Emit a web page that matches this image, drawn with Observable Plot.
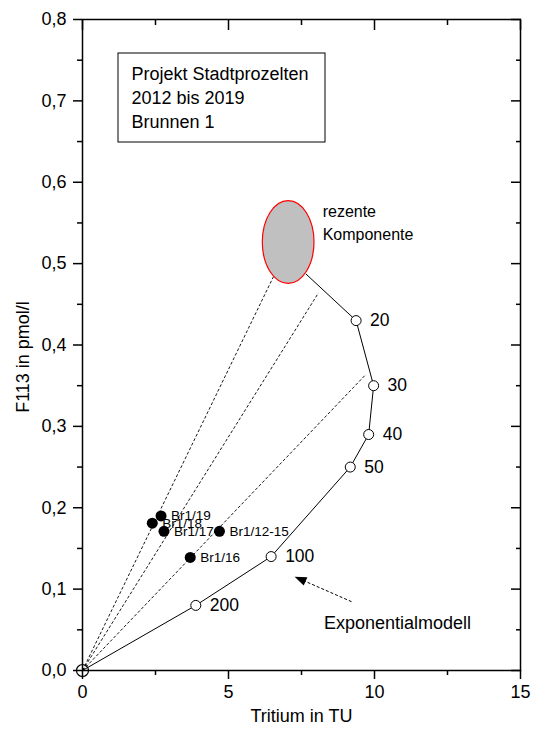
<!DOCTYPE html>
<html>
<head>
<meta charset="utf-8">
<script src="https://cdn.jsdelivr.net/npm/d3@7"></script>
<script src="https://cdn.jsdelivr.net/npm/@observablehq/plot@0.6"></script>
<style>
  body { margin: 0; background: #fff; }
  #chart svg { display: block; }
</style>
</head>
<body>
<div id="chart"></div>
<script>
// ---- data ----
const modelAges = ["", "20", "30", "40", "50", "100", "200", ""];
const modelTritium = [7.66, 9.37, 9.97, 9.80, 9.17, 6.46, 3.88, 0];
const modelF113 = [0.487, 0.43, 0.35, 0.29, 0.25, 0.14, 0.08, 0];

const sampleNames = ["Br1/19", "Br1/18", "Br1/17", "Br1/12-15", "Br1/16"];
const sampleTritium = [2.69, 2.39, 2.79, 4.69, 3.69];
const sampleF113 = [0.190, 0.181, 0.171, 0.171, 0.139];

const mixEndTritium = [6.54, 8.08, 9.71];
const mixEndF113 = [0.484, 0.464, 0.364];

const recentCenter = [7.06, 0.526];
const recentRadius = [0.885, 0.0508];
const recentLabel = "rezente\nKomponente";

const arrowFrom = [9.23, 0.084];
const arrowTo = [7.28, 0.1147];
const arrowLabel = "Exponentialmodell";

const xMajor = [0, 5, 10, 15];
const xMinor = [2.5, 7.5, 12.5];
const yMajor = [0, 0.1, 0.2, 0.3, 0.4, 0.5, 0.6, 0.7, 0.8];
const yMinor = [0.05, 0.15, 0.25, 0.35, 0.45, 0.55, 0.65, 0.75];

const xTitle = "Tritium in TU";
const yTitle = "F113 in pmol/l";
const infoLines = ["Projekt Stadtprozelten", "2012 bis 2019", "Brunnen 1"];

// ---- tables ----
const model = modelTritium.map((x, i) => ({x, y: modelF113[i], age: modelAges[i]}));
const ageCircles = model.filter(d => d.age !== "");
const origin = [model[model.length - 1]];
const samples = sampleNames.map((name, i) => ({name, x: sampleTritium[i], y: sampleF113[i]}));
const mixEnds = mixEndTritium.map((x, i) => ({x, y: mixEndF113[i]}));
const recent = [{x: recentCenter[0], y: recentCenter[1], label: recentLabel}];
const arrowData = [{x1: arrowFrom[0], y1: arrowFrom[1], x2: arrowTo[0], y2: arrowTo[1], label: arrowLabel}];

const FONT = "'Liberation Sans', Arial, Helvetica, sans-serif";
const comma = d => d.toFixed(1).replace(".", ",");
const blank = () => "";

// ellipse of the recent component, positioned through the scales
function ellipseMark(index, scales) {
  const cx = scales.x(recentCenter[0]);
  const cy = scales.y(recentCenter[1]);
  const rx = scales.x(recentCenter[0] + recentRadius[0]) - cx;
  const ry = cy - scales.y(recentCenter[1] + recentRadius[1]);
  const g = d3.create("svg:g");
  g.append("ellipse")
    .attr("cx", cx).attr("cy", cy).attr("rx", rx).attr("ry", ry)
    .attr("fill", "#c0c0c0").attr("stroke", "#ff0000").attr("stroke-width", 1.2);
  return g.node();
}

// dashed arrow with filled head
function arrowMark(index, scales) {
  const g = d3.create("svg:g");
  for (const d of arrowData) {
    const tx = scales.x(d.x1), ty = scales.y(d.y1);
    const hx = scales.x(d.x2), hy = scales.y(d.y2);
    const L = Math.hypot(hx - tx, hy - ty);
    const ux = (hx - tx) / L, uy = (hy - ty) / L;
    const hl = 12, hw = 4.5;
    const bx = hx - ux * hl, by = hy - uy * hl;
    g.append("line")
      .attr("x1", tx).attr("y1", ty).attr("x2", bx + ux * 2).attr("y2", by + uy * 2)
      .attr("stroke", "black").attr("stroke-width", 1).attr("stroke-dasharray", "3,2");
    g.append("path")
      .attr("d", `M${hx},${hy}L${bx - uy * hw},${by + ux * hw}L${bx + uy * hw},${by - ux * hw}Z`)
      .attr("fill", "black");
  }
  return g.node();
}

// info box in the upper left corner of the frame
function infoBox(index, scales, values, dims) {
  const left = dims.marginLeft + 36, top = dims.marginTop + 34;
  const g = d3.create("svg:g");
  g.append("rect")
    .attr("x", left).attr("y", top).attr("width", 207).attr("height", 89)
    .attr("fill", "white").attr("stroke", "black").attr("stroke-width", 1);
  infoLines.forEach((t, i) => {
    g.append("text")
      .attr("x", left + 13.5).attr("y", top + 27 + i * 24)
      .attr("text-anchor", "start")
      .attr("font-family", FONT).attr("font-size", 18).attr("fill", "black")
      .text(t);
  });
  return g.node();
}

const chart = Plot.plot({
  width: 537,
  height: 733,
  marginLeft: 82,
  marginRight: 17,
  marginTop: 19,
  marginBottom: 63,
  style: {fontFamily: FONT, background: "white", color: "black"},
  x: {domain: [0, 15]},
  y: {domain: [0, 0.8]},
  marks: [
    infoBox,
    Plot.link(mixEnds, {x1: () => 0, y1: () => 0, x2: "x", y2: "y", stroke: "black", strokeWidth: 0.9, strokeDasharray: "3,2"}),
    Plot.line(model, {x: "x", y: "y", stroke: "black", strokeWidth: 1}),
    ellipseMark,
    arrowMark,
    Plot.dot(ageCircles, {x: "x", y: "y", r: 5, fill: "white", stroke: "black", strokeWidth: 1}),
    Plot.dot(origin, {x: "x", y: "y", r: 6, fill: "none", stroke: "black", strokeWidth: 1.2}),
    Plot.dot(samples, {x: "x", y: "y", r: 5.5, fill: "black"}),
    Plot.text(samples, {x: "x", y: "y", text: "name", dx: 10, textAnchor: "start", fontSize: 13.5, fill: "black"}),
    Plot.text(ageCircles, {x: "x", y: "y", text: "age", dx: 14, textAnchor: "start", fontSize: 17.5, fill: "black"}),
    Plot.text(recent, {x: "x", y: "y", text: "label", dx: 34, dy: -21, textAnchor: "start", lineAnchor: "middle", lineHeight: 1.38, fontSize: 16, fill: "black"}),
    Plot.text(arrowData, {x: "x1", y: "y1", text: "label", dx: -28, dy: 21, textAnchor: "start", fontSize: 18, fill: "black"}),
    Plot.frame({stroke: "black", strokeWidth: 1.5}),
    Plot.axisX({anchor: "bottom", ticks: xMajor, tickSize: 9, tickPadding: 6, tickFormat: d => String(d), fontSize: 18, strokeWidth: 1.5, label: null}),
    Plot.axisX({anchor: "bottom", ticks: xMinor, tickSize: 5, tickFormat: blank, strokeWidth: 1.5, label: null}),
    Plot.axisX({anchor: "top", ticks: xMajor, tickSize: -10, tickFormat: blank, strokeWidth: 1.5, label: null}),
    Plot.axisX({anchor: "top", ticks: xMinor, tickSize: -5, tickFormat: blank, strokeWidth: 1.5, label: null}),
    Plot.axisY({anchor: "left", ticks: yMajor, tickSize: 9, tickPadding: 7, tickFormat: comma, fontSize: 18, strokeWidth: 1.5, label: null}),
    Plot.axisY({anchor: "left", ticks: yMinor, tickSize: 5, tickFormat: blank, strokeWidth: 1.5, label: null}),
    Plot.axisY({anchor: "right", ticks: yMajor, tickSize: -10, tickFormat: blank, strokeWidth: 1.5, label: null}),
    Plot.axisY({anchor: "right", ticks: yMinor, tickSize: -5, tickFormat: blank, strokeWidth: 1.5, label: null}),
    Plot.text([xTitle], {frameAnchor: "bottom", text: d => d, dy: 46, textAnchor: "middle", lineAnchor: "middle", fontSize: 18, fill: "black"}),
    Plot.text([yTitle], {frameAnchor: "left", text: d => d, dx: -59, dy: 12, rotate: -90, textAnchor: "middle", lineAnchor: "middle", fontSize: 18, fill: "black"})
  ]
});

document.getElementById("chart").appendChild(chart);
</script>
</body>
</html>
